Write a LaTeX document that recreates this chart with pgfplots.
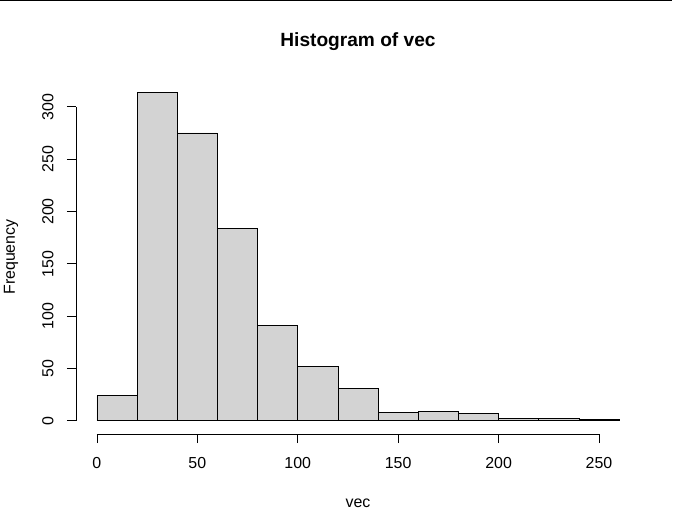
\documentclass[border=0pt]{standalone}
\usepackage{pgfplots}
\pgfplotsset{compat=1.18}
\usepackage{fontspec}
\setmainfont{Liberation Sans}
\definecolor{rgray}{RGB}{211,211,211}
\begin{document}
\begin{tikzpicture}[x=1bp,y=1bp]
\useasboundingbox (-76bp,-98bp) rectangle (609bp,434bp);
\draw[line width=1.2bp] (-76bp,433.5bp) -- (596bp,433.5bp);
\begin{axis}[
  at={(0,0)}, anchor=south west,
  scale only axis, width=564bp, height=355bp,
  xmin=-10.4, xmax=270.4, ymin=-12.56, ymax=326.56,
  axis x line*=bottom, axis y line*=left,
  x axis line style={draw=none}, y axis line style={draw=none},
  xtick={0,50,100,150,200,250}, ytick={0,50,100,150,200,250,300},
  tick align=outside, major tick length=9bp,
  tick style={black, line width=0.75bp},
  xticklabel style={font=\fontsize{16}{19}\selectfont, yshift=-11bp},
  yticklabel style={font=\fontsize{16}{19}\selectfont, rotate=90, anchor=south, yshift=10bp},
  /pgf/number format/assume math mode=true,
  clip=false,
]
\addplot[ybar interval, fill=rgray, draw=black, line width=0.75bp] coordinates {
(0,24) (20,314) (40,275) (60,184) (80,91) (100,52) (120,31) (140,8) (160,9) (180,7) (200,2) (220,2) (240,1) (260,1)
};
\draw[line width=0.75bp] (axis cs:0,-12.56) -- (axis cs:250,-12.56);
\draw[line width=0.75bp] (axis cs:-10.4,0) -- (axis cs:-10.4,300);
\end{axis}
\node[font=\bfseries\fontsize{19.2}{23}\selectfont] at (282bp,392bp) {Histogram of vec};
\node[font=\fontsize{16}{19}\selectfont] at (282bp,-69bp) {vec};
\node[font=\fontsize{16}{19}\selectfont, rotate=90] at (-65bp,177bp) {Frequency};
\end{tikzpicture}
\end{document}
